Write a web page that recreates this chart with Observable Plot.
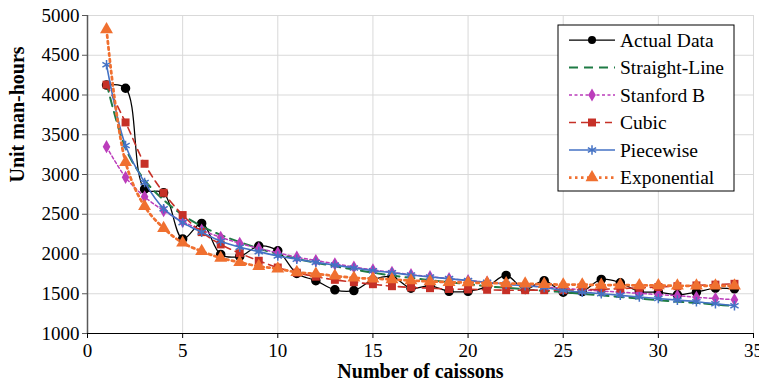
<!DOCTYPE html>
<html><head><meta charset="utf-8">
<script src="https://cdn.jsdelivr.net/npm/d3@7"></script>
<script src="https://cdn.jsdelivr.net/npm/@observablehq/plot@0.6"></script>
<style>body{margin:0;background:#fff} svg text{font-family:'Liberation Serif','Times New Roman',serif !important;}</style>
</head><body><div id="chart"></div>
<script>
const caissons = [1,2,3,4,5,6,7,8,9,10,11,12,13,14,15,16,17,18,19,20,21,22,23,24,25,26,27,28,29,30,31,32,33,34];
const actualData   = [4125,4085,2815,2770,2190,2385,1995,1970,2100,2040,1755,1665,1550,1540,1675,1715,1570,1600,1530,1530,1590,1730,1555,1665,1520,1528,1680,1638,1528,1520,1487,1520,1570,1562];
const straightLine = [4150,3330,2930,2680,2490,2350,2240,2150,2070,2000,1940,1890,1845,1805,1765,1730,1700,1670,1645,1620,1595,1575,1555,1535,1520,1500,1480,1460,1440,1420,1400,1385,1365,1345];
const stanfordB    = [3350,2965,2720,2545,2410,2300,2210,2135,2070,2015,1960,1918,1877,1836,1800,1770,1740,1715,1690,1665,1645,1625,1605,1585,1570,1550,1535,1520,1505,1490,1475,1455,1440,1425];
const cubic        = [4130,3655,3135,2770,2490,2275,2120,2010,1915,1830,1765,1715,1675,1645,1620,1595,1580,1570,1560,1555,1550,1545,1545,1545,1545,1550,1555,1565,1575,1585,1595,1605,1615,1625];
const piecewise    = [4380,3365,2900,2570,2395,2275,2160,2085,2030,1975,1935,1895,1860,1825,1790,1765,1735,1710,1690,1665,1645,1620,1600,1580,1540,1520,1500,1480,1460,1440,1420,1400,1375,1350];
const exponential  = [4825,3155,2600,2325,2140,2035,1950,1895,1845,1815,1770,1750,1725,1700,1690,1680,1665,1655,1645,1640,1635,1630,1625,1620,1615,1615,1610,1610,1605,1605,1600,1600,1600,1600];
const seriesNames = ["Actual Data","Straight-Line","Stanford B","Cubic","Piecewise","Exponential"];
const xTicks = [0,5,10,15,20,25,30,35];
const yTicks = [1000,1500,2000,2500,3000,3500,4000,4500,5000];
const xLabel = "Number of caissons";
const yLabel = "Unit man-hours";

const FONT = "'Liberation Serif','Times New Roman',serif";
const rows = s => caissons.map((x,i)=>({x, y:s[i]}));
const styles = [
  {data: actualData, stroke:"#000000", width:1.25, dash:null, symbol:"circle", r:4, fill:"#000000"},
  {data: straightLine, stroke:"#1E7B45", width:2, dash:"9,6", symbol:null},
  {data: stanfordB, stroke:"#BB3DBB", width:1.5, dash:"3,2.5", symbol:"diamond", r:4, fill:"#BB3DBB"},
  {data: cubic, stroke:"#C63027", width:1.6, dash:"7,5", symbol:"square", r:4.5, fill:"#C63027"},
  {data: piecewise, stroke:"#4472C4", width:1.6, dash:null, symbol:"asterisk", r:4.5, fill:null},
  {data: exponential, stroke:"#F07030", width:2.75, dash:"2.5,3.5", symbol:"triangle", r:4.8, fill:"#F07030"}
];

const marks = [
  Plot.gridX(xTicks, {stroke:"#d9d9d9", strokeOpacity:1}),
  Plot.gridY(yTicks, {stroke:"#d9d9d9", strokeOpacity:1}),
  Plot.axisX(xTicks, {tickSize:5, tickPadding:5, fontSize:19, fontFamily:FONT, stroke:"#000", tickFormat:d3.format("d")}),
  Plot.axisY(yTicks, {tickSize:5, tickPadding:3, fontSize:19, fontFamily:FONT, stroke:"#595959", tickFormat:d3.format("d")}),
  Plot.ruleY([1000], {stroke:"#000", strokeWidth:1.2}),
  Plot.ruleX([0], {stroke:"#595959", strokeWidth:1.5}),
];
for (const s of styles) {
  marks.push(Plot.line(rows(s.data), {x:"x", y:"y", stroke:s.stroke, strokeWidth:s.width, strokeDasharray:s.dash, curve:"catmull-rom"}));
  if (s.symbol) {
    if (s.fill) marks.push(Plot.dot(rows(s.data), {x:"x", y:"y", symbol:s.symbol, r:s.r, fill:s.fill, stroke:s.symbol==="circle"?"#000":"none"}));
    else marks.push(Plot.dot(rows(s.data), {x:"x", y:"y", symbol:s.symbol, r:s.r, stroke:s.stroke, strokeWidth:1.5}));
  }
}
marks.push(Plot.text([yLabel], {frameAnchor:"left", rotate:-90, dx:-70, dy:8, fontWeight:"bold", fontSize:20, fontFamily:FONT}));
marks.push(Plot.text([xLabel], {frameAnchor:"bottom", dy:44, fontWeight:"bold", fontSize:20, fontFamily:FONT}));

const chart = Plot.plot({
  width:759, height:390, marginLeft:87, marginRight:6, marginTop:15, marginBottom:57,
  style:{fontFamily:FONT, fontSize:"19px", color:"#000", background:"#fff"},
  x:{domain:[0,35], label:null},
  y:{domain:[1000,5000], label:null},
  marks
});
document.getElementById("chart").appendChild(chart);

// legend
const svg = d3.select(chart);
const lg = svg.append("g").style("font-family",FONT).style("font-size","19.5px").attr("text-anchor","start");
lg.append("rect").attr("x",558).attr("y",25).attr("width",176).attr("height",166).attr("fill","#fff").attr("stroke","#000").attr("stroke-width",1);
const symMap = {circle:d3.symbolCircle, diamond:d3.symbolDiamond, square:d3.symbolSquare, asterisk:d3.symbolAsterisk, triangle:d3.symbolTriangle};
styles.forEach((s,i)=>{
  const y = 40 + i*27.5;
  lg.append("line").attr("x1",569).attr("x2",615).attr("y1",y).attr("y2",y)
    .attr("stroke",s.stroke).attr("stroke-width",s.width).attr("stroke-dasharray",s.dash);
  if (s.symbol) {
    const p = d3.symbol(symMap[s.symbol], Math.PI*s.r*s.r)();
    const el = lg.append("path").attr("d",p).attr("transform",`translate(592,${y})`);
    if (s.fill) el.attr("fill",s.fill); else el.attr("fill","none").attr("stroke",s.stroke).attr("stroke-width",1.5);
  }
  lg.append("text").attr("x",620).attr("y",y).attr("dy","0.35em").attr("text-anchor","start")
    .style("font-family",FONT).style("font-size","19.5px").text(seriesNames[i]);
});
</script></body></html>
